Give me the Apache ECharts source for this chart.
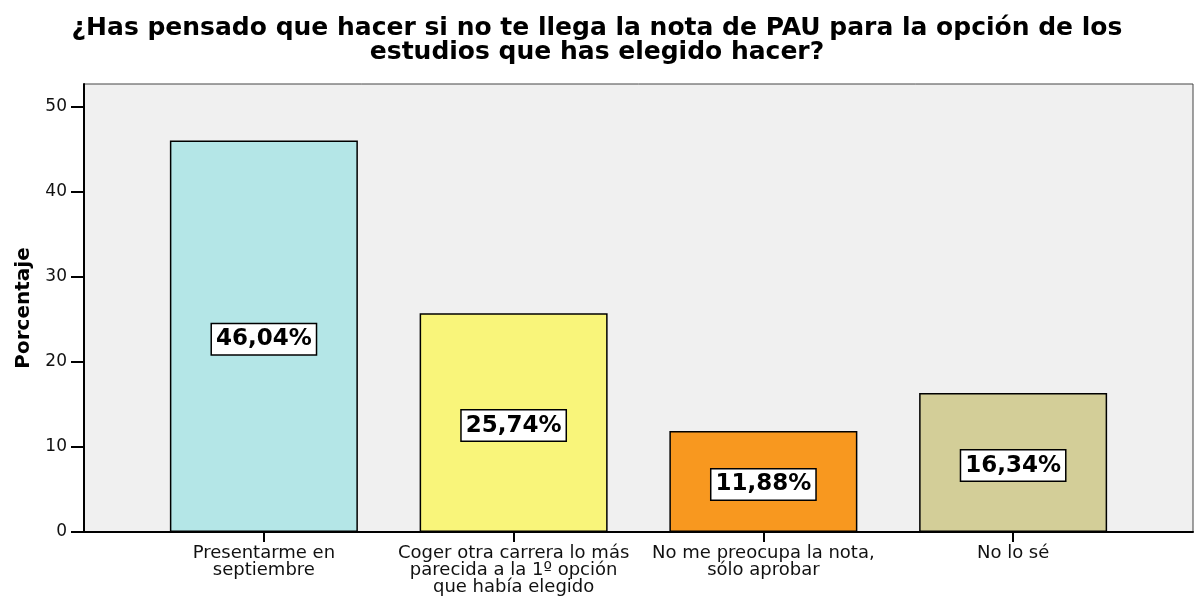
<!DOCTYPE html>
<html>
<head>
<meta charset="utf-8">
<script src="https://cdn.jsdelivr.net/npm/echarts@6/dist/echarts.min.js"></script>
<style>
  html, body { margin: 0; padding: 0; background: #fff; }
  #chart { width: 1194px; height: 601px; }
</style>
</head>
<body>
<div id="chart"></div>
<script>
const categories = [
  'Presentarme en\nseptiembre',
  'Coger otra carrera lo más\nparecida a la 1º opción\nque había elegido',
  'No me preocupa la nota,\nsólo aprobar',
  'No lo sé'
];
const percentages = [46.04, 25.74, 11.88, 16.34];
const barColors = ['#b4e6e7', '#f9f57a', '#f8981f', '#d3ce98'];
const yTicks = [0, 10, 20, 30, 40, 50];

// la imagen original tiene el texto ensanchado, DejaVu Sans se acerca más
const font = '"DejaVu Sans", Verdana, sans-serif';
const yMax = 52.7;

const chart = echarts.init(document.getElementById('chart'));

chart.setOption({
  animation: false,
  textStyle: { fontFamily: font },
  title: {
    text: '¿Has pensado que hacer si no te llega la nota de PAU para la opción de los\nestudios que has elegido hacer?',
    left: 'center',
    top: 11,
    textStyle: { fontFamily: font, fontSize: 25, fontWeight: 'bold', color: '#000', lineHeight: 24 }
  },
  grid: [
    // marco del gráfico con fondo gris
    { left: 84, top: 84, width: 1109, height: 448, outerBoundsMode: 'none', show: true, backgroundColor: '#f0f0f0', borderColor: '#444', borderWidth: 1 },
    // zona de las barras
    { left: 139, top: 84, width: 999, height: 448, outerBoundsMode: 'none' }
  ],
  xAxis: [
    {
      gridIndex: 0, type: 'value', min: 0, max: 1,
      axisLine: { show: true, lineStyle: { color: '#000', width: 2 } },
      axisTick: { show: false }, axisLabel: { show: false }, splitLine: { show: false }
    },
    {
      gridIndex: 1, type: 'category', data: categories,
      axisLine: { show: false },
      axisTick: { show: true, interval: 0, alignWithLabel: true, length: 10, lineStyle: { color: '#000', width: 2 } },
      axisLabel: { interval: 0, hideOverlap: false, fontFamily: font, fontSize: 18, color: '#111', lineHeight: 17, margin: 13 }
    }
  ],
  yAxis: [
    {
      gridIndex: 0, type: 'value', min: 0, max: yMax, interval: 10,
      name: 'Porcentaje', nameLocation: 'middle', nameGap: 50,
      nameTextStyle: { fontFamily: font, fontSize: 20, fontWeight: 'bold', color: '#000' },
      axisLine: { show: true, lineStyle: { color: '#000', width: 2 } },
      axisTick: { show: true, length: 13, customValues: yTicks, lineStyle: { color: '#000', width: 2 } },
      axisLabel: { fontFamily: font, fontSize: 17, color: '#111', margin: 17, customValues: yTicks },
      splitLine: { show: false }
    },
    { gridIndex: 1, type: 'value', min: 0, max: yMax, show: false }
  ],
  series: [
    {
      type: 'bar',
      xAxisIndex: 1,
      yAxisIndex: 1,
      barWidth: 188,
      data: percentages.map((v, i) => ({
        value: v,
        itemStyle: { color: barColors[i], borderColor: '#000', borderWidth: 1.5 }
      })),
      label: {
        show: true,
        position: 'inside',
        offset: [0, 3],
        formatter: p => p.value.toFixed(2).replace('.', ',') + '%',
        fontFamily: font,
        fontSize: 23,
        fontWeight: 'bold',
        color: '#000',
        backgroundColor: '#fff',
        borderColor: '#000',
        borderWidth: 1.5,
        padding: [4, 4, 3, 4]
      }
    }
  ]
});
</script>
</body>
</html>
